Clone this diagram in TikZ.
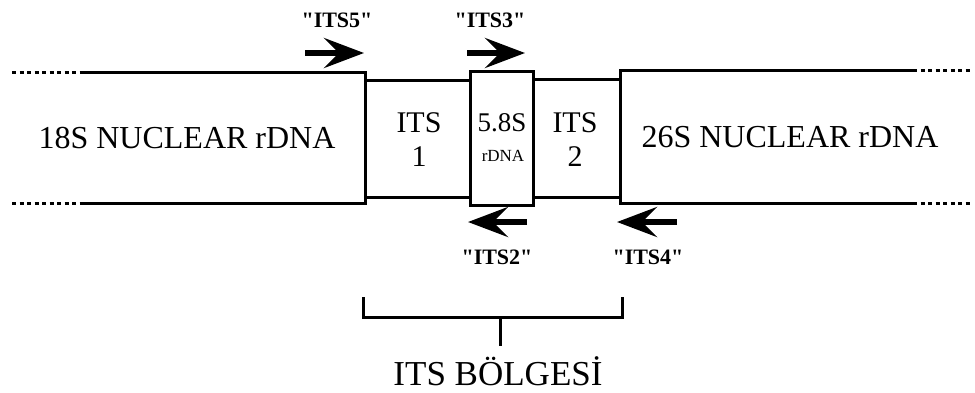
\documentclass[tikz,border=0pt]{standalone}
\usepackage{fontspec}
\setmainfont{Liberation Serif}[Ligatures=TeXOff]
\usetikzlibrary{arrows.meta}
\begin{document}
\begin{tikzpicture}[x=1pt,y=-1pt,
  outline/.style={line width=3pt,line join=miter},
  dotline/.style={line width=3pt,dash pattern=on 4pt off 3.5pt},
  primer/.style={line width=6pt,-{Stealth[length=40pt 0 0,width=30pt 0 0,inset=15pt 0]}},
  big/.style={font=\fontsize{32}{34}\selectfont},
  mid/.style={font=\fontsize{30}{36}\selectfont,align=center},
  plabel/.style={font=\fontsize{22}{24}\selectfont\bfseries},
  brk/.style={line width=3pt}]
\useasboundingbox (0,0) rectangle (975,392);
% gene segments
\draw[dotline] (12,72) -- (80,72);
\draw[dotline] (12,203) -- (80,203);
\draw[outline] (80,72) -- (365,72) -- (365,203) -- (80,203);
\draw[outline] (365,80) -- (470,80);
\draw[outline] (365,197) -- (470,197);
\node[draw,line width=3pt,minimum width=63pt,minimum height=134pt,inner sep=0pt] (s58) at (501.5,138) {};
\draw[outline] (533,79) -- (620,79);
\draw[outline] (533,197) -- (620,197);
\draw[outline] (913,70) -- (620,70) -- (620,203) -- (913,203);
\draw[dotline] (913,70) -- (970,70);
\draw[dotline] (913,203) -- (970,203);
% texts
\node[big] (r18) at (187,138) {18S NUCLEAR rDNA};
\node[big] (r26) at (790,137) {26S NUCLEAR rDNA};
\node[mid] (its1) at (419,140) {ITS\\[-2pt]1};
\node[mid] (its2) at (575,140) {ITS\\[-2pt]2};
\node[font=\fontsize{27}{28}\selectfont,inner sep=0pt] (t58) at (502,123) {5.8S};
\node[font=\fontsize{17}{18}\selectfont,inner sep=0pt] (t58b) at (503,156) {rDNA};
% primers
\coordinate (p5a) at (305,53); \coordinate (p5b) at (364,53);
\coordinate (p3a) at (467,53); \coordinate (p3b) at (525,53);
\coordinate (p2a) at (527,222); \coordinate (p2b) at (468,222);
\coordinate (p4a) at (677,222); \coordinate (p4b) at (617,222);
\draw[primer] (p5a) -- (p5b);
\draw[primer] (p3a) -- (p3b);
\draw[primer] (p2a) -- (p2b);
\draw[primer] (p4a) -- (p4b);
\node[plabel] (l5) at (337,20) {"ITS5"};
\node[plabel] (l3) at (490,20) {"ITS3"};
\node[plabel] (l2) at (497,257) {"ITS2"};
\node[plabel] (l4) at (648,257) {"ITS4"};
% bracket
\coordinate (bl) at (363,297); \coordinate (br) at (622,297);
\coordinate (bm) at (500,317); \coordinate (bt) at (500,346);
\draw[brk] (bl) -- (363,317) -- (622,317) -- (br);
\draw[brk] (bm) -- (bt);
\node[font=\fontsize{35}{38}\selectfont] (reg) at (498,371) {ITS BÖLGESİ};
\end{tikzpicture}
\end{document}
